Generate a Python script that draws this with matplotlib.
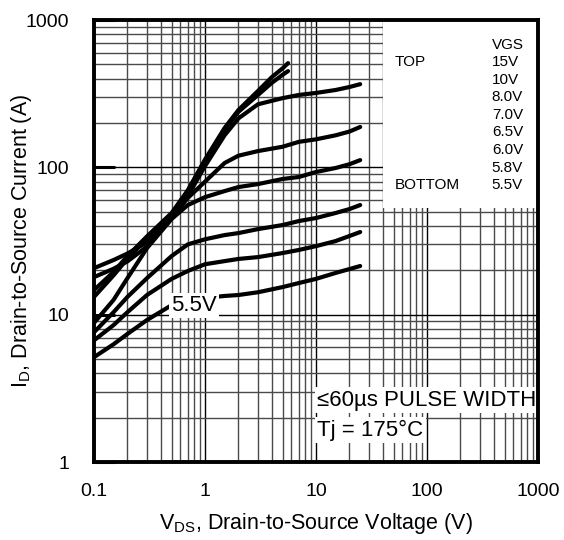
import matplotlib
matplotlib.use('Agg')
from matplotlib import pyplot as plt
from matplotlib.patches import Rectangle
from matplotlib.ticker import LogLocator, NullFormatter

plt.rcParams['font.family'] = ['Liberation Sans', 'DejaVu Sans']

# V_DS sample points (V) and drain current (A)
vds = [0.1, 0.15, 0.2, 0.3, 0.5, 0.7, 1, 1.5, 2, 3, 5, 7, 10, 15, 20, 25]
vds_hi = [0.1, 0.15, 0.2, 0.3, 0.5, 0.7, 1, 1.5, 2, 3, 4, 5, 5.6]

id_15v = [14.7, 19.5, 25, 34, 49, 70, 113, 185, 245, 330, 410, 470, 510]
id_10v = [13.2, 18.5, 24, 33, 48, 69, 110, 180, 238, 310, 375, 425, 450]
id_8v0 = [20.7, 23.5, 26, 31, 45, 64, 102, 165, 215, 268, 295, 310, 320, 335, 351, 367]
id_7v0 = [18, 20.5, 23, 29, 45, 62, 80, 107, 120, 129, 138, 149, 155, 165, 175, 188]
id_6v5 = [8.8, 12.6, 17.7, 28.3, 44.6, 55.5, 62.8, 69, 73.5, 77, 83.4, 86, 93, 99, 105, 112]
id_6v0 = [7.6, 10.4, 13.2, 17.7, 25, 30, 32.5, 34.7, 35.8, 38.1, 40.6, 43.2, 45.3, 49, 52.1, 55.5]
id_5v8 = [6.7, 8.5, 10.4, 13.6, 17.5, 19.8, 22, 23.1, 23.9, 24.6, 26.2, 27.5, 29.2, 31.6, 34.2, 36.4]
id_5v5 = [5.15, 6.3, 7.4, 9.2, 11.6, 12.6, 13.0, 13.4, 13.6, 14.2, 15.4, 16.4, 17.5, 19.2, 20.4, 21.4]

vgs_labels = ['15V', '10V', '8.0V', '7.0V', '6.5V', '6.0V', '5.8V', '5.5V']

xticks = [0.1, 1, 10, 100, 1000]
xtick_labels = ['0.1', '1', '10', '100', '1000']
yticks = [1, 10, 100, 1000]
ytick_labels = ['1', '10', '100', '1000']

fig = plt.figure(figsize=(5.64, 5.40), dpi=100)
ax = fig.add_axes([0.1667, 0.1444, 0.7872, 0.8185])

ax.set_xscale('log')
ax.set_yscale('log')
ax.set_xlim(0.1, 1000)
ax.set_ylim(1, 1000)

curves = [(vds_hi, id_15v), (vds_hi, id_10v), (vds, id_8v0), (vds, id_7v0),
          (vds, id_6v5), (vds, id_6v0), (vds, id_5v8), (vds, id_5v5)]
for x, y in curves:
	ax.plot(x, y, color='black', linewidth=3.0, solid_capstyle='round', zorder=2)

ax.set_axisbelow(True)
ax.xaxis.set_minor_locator(LogLocator(base=10, subs=range(2, 10)))
ax.yaxis.set_minor_locator(LogLocator(base=10, subs=range(2, 10)))
ax.xaxis.set_minor_formatter(NullFormatter())
ax.yaxis.set_minor_formatter(NullFormatter())
ax.grid(which='major', color='black', linewidth=1.0)
ax.grid(which='minor', color='#4a4a4a', linewidth=1.0)

ax.set_xticks(xticks)
ax.set_xticklabels(xtick_labels)
ax.set_yticks(yticks)
ax.set_yticklabels(ytick_labels)
ax.tick_params(axis='x', which='major', length=0, pad=15, labelsize=14)
ax.tick_params(axis='y', which='major', direction='in', length=15, width=2.2, pad=18, labelsize=14)
ax.tick_params(which='minor', length=0)

for s in ax.spines.values():
	s.set_linewidth(2.8)
	s.set_zorder(4)

# white box behind the VGS legend
ax.add_patch(Rectangle((0.651, 0.575), 0.349, 0.425, transform=ax.transAxes,
                       facecolor='white', edgecolor='none', zorder=1))

ax.text(0.896, 0.943, 'VGS', transform=ax.transAxes, fontsize=11, va='center', ha='left', zorder=3)
ax.text(0.678, 0.905, 'TOP', transform=ax.transAxes, fontsize=11, va='center', ha='left', zorder=3)
ax.text(0.678, 0.627, 'BOTTOM', transform=ax.transAxes, fontsize=11, va='center', ha='left', zorder=3)
for i, lab in enumerate(vgs_labels):
	ax.text(0.896, 0.905 - i * 0.0398, lab, transform=ax.transAxes, fontsize=11,
	        va='center', ha='left', zorder=3)

ax.text(0.8, 11.6, '5.5V', fontsize=16, ha='center', va='center', zorder=3,
        bbox=dict(facecolor='white', edgecolor='none', pad=1.5))

ax.text(0.503, 0.140, '\u226460\u00b5s PULSE WIDTH', transform=ax.transAxes, fontsize=16,
        ha='left', va='center', zorder=3, bbox=dict(facecolor='white', edgecolor='none', pad=2))
ax.text(0.503, 0.072, 'Tj = 175\u00b0C', transform=ax.transAxes, fontsize=16,
        ha='left', va='center', zorder=3, bbox=dict(facecolor='white', edgecolor='none', pad=2))

ax.set_xlabel(r'$\mathregular{V_{DS}}$, Drain-to-Source Voltage (V)', fontsize=15.5)
ax.set_ylabel(r'$\mathregular{I_D}$, Drain-to-Source Current (A)', fontsize=15.5)
ax.xaxis.set_label_coords(0.5, -0.11)
ax.yaxis.set_label_coords(-0.135, 0.5)

plt.savefig('out.png', dpi=100)
